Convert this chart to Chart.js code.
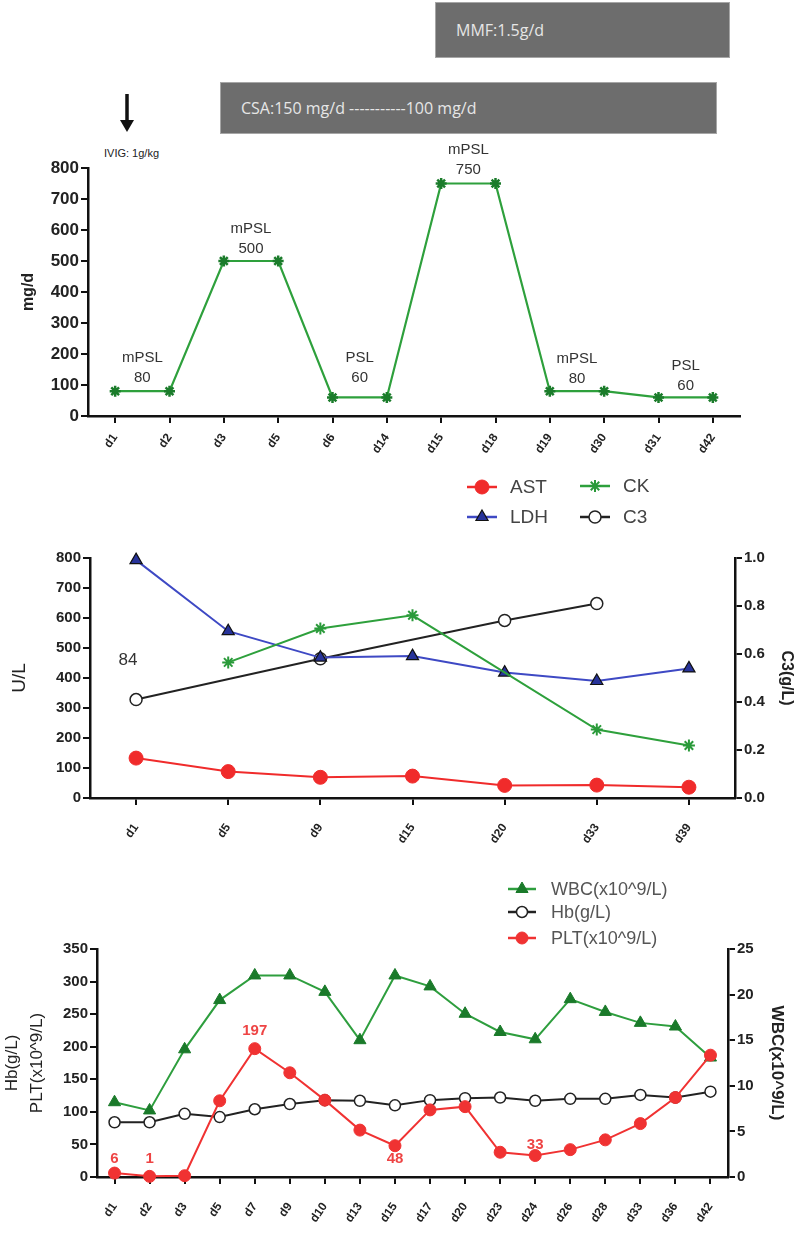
<!DOCTYPE html>
<html>
<head>
<meta charset="utf-8">
<script src="https://cdn.jsdelivr.net/npm/chart.js@4.4.1/dist/chart.umd.min.js"></script>
<style>
  body { margin: 0; background: #fff; font-family: "Liberation Sans", Arial, sans-serif; }
  #page { position: relative; width: 800px; height: 1238px; overflow: hidden; }
  canvas { position: absolute; left: 0; }
  .bar {
    position: absolute; box-sizing: border-box; background: #6d6d6d; border: 1px solid #a6a6a6;
    color: #e6e6e6; font-family: "Open Sans", sans-serif; font-size: 16px;
    display: flex; align-items: center; padding-left: 20px; white-space: pre;
  }
  .ivig { position: absolute; left: 104px; top: 147px; font-size: 11px; color: #222; }
</style>
</head>
<body>
<div id="page">
  <div class="bar" style="left:435px;top:2px;width:295px;height:56px">MMF:1.5g/d</div>
  <div class="bar" style="left:220px;top:82px;width:497px;height:52px">CSA:150 mg/d -----------100 mg/d</div>
  <svg style="position:absolute;left:118px;top:94px" width="18" height="40">
    <line x1="9" y1="0" x2="9" y2="28" stroke="#111" stroke-width="3.5"/>
    <polygon points="2,26 16,26 9,38" fill="#111"/>
  </svg>
  <div class="ivig">IVIG: 1g/kg</div>
  <canvas id="dose" width="800" height="330" style="top:140px"></canvas>
  <canvas id="enzyme" width="800" height="400" style="top:470px"></canvas>
  <canvas id="blood" width="800" height="368" style="top:870px"></canvas>
</div>
<script>
// ---- steroid dose panel ----
const doseDays = ['d1', 'd2', 'd3', 'd5', 'd6', 'd14', 'd15', 'd18', 'd19', 'd30', 'd31', 'd42'];
const doseMg = [80, 80, 500, 500, 60, 60, 750, 750, 80, 80, 60, 60];
const doseNotes = [['mPSL', '80'], ['mPSL', '500'], ['PSL', '60'], ['mPSL', '750'], ['mPSL', '80'], ['PSL', '60']];
const doseNoteAt = [0.5, 2.5, 4.5, 6.5, 8.5, 10.5];

// ---- enzyme panel ----
const labDays = ['d1', 'd5', 'd9', 'd15', 'd20', 'd33', 'd39'];
const ast = [133, 88, 69, 73, 42, 43, 36];
const ck = [null, 452, 565, 609, null, 228, 175];
const ldh = [793, 556, 468, 473, 418, 390, 432];
const c3 = [0.41, null, 0.58, null, 0.74, 0.81, null];

// ---- blood count panel ----
const cbcDays = ['d1', 'd2', 'd3', 'd5', 'd7', 'd9', 'd10', 'd13', 'd15', 'd17', 'd20', 'd23', 'd24', 'd26', 'd28', 'd33', 'd36', 'd42'];
const wbc = [8.2, 7.3, 14.0, 19.4, 22.1, 22.1, 20.3, 15.0, 22.1, 20.9, 17.9, 15.9, 15.1, 19.5, 18.1, 16.9, 16.5, 13.1];
const hb = [84, 84, 97, 92, 104, 112, 118, 117, 110, 118, 121, 122, 117, 120, 120, 126, 122, 131];
const plt = [6, 1, 2, 117, 197, 160, 118, 72, 48, 103, 108, 38, 33, 42, 57, 82, 122, 187];
const pltNoteAt = [0, 1, 4, 8, 12];

const FONT = '"Liberation Sans", Arial, sans-serif';

// text labels pinned to a category (may be fractional) and a value
const notesPlugin = {
  id: 'notes',
  afterDatasetsDraw(chart, args, opts) {
    const ctx = chart.ctx;
    const xs = chart.scales.x;
    (opts.items || []).forEach(n => {
      const ys = chart.scales[n.axis || 'y'];
      const i0 = Math.floor(n.at), i1 = Math.ceil(n.at);
      const p0 = xs.getPixelForValue(i0), p1 = xs.getPixelForValue(i1);
      const x = p0 + (p1 - p0) * (n.at - i0) + (n.dx || 0);
      const y = ys.getPixelForValue(n.value) + (n.dy || 0);
      const lines = Array.isArray(n.text) ? n.text : [n.text];
      ctx.save();
      ctx.font = opts.font;
      ctx.fillStyle = opts.color;
      ctx.textAlign = 'center';
      ctx.textBaseline = 'middle';
      lines.forEach((s, k) => {
        ctx.fillText(s, x, y - (lines.length - 1 - k) * opts.lineHeight);
      });
      ctx.restore();
    });
  }
};

// hand-placed legend, drawn with the datasets' own styles
const keyPlugin = {
  id: 'keyBox',
  afterDraw(chart, args, opts) {
    if (!opts.items) return;
    const ctx = chart.ctx;
    opts.items.forEach(it => {
      const ds = chart.data.datasets[it.ds];
      ctx.save();
      ctx.strokeStyle = ds.borderColor;
      ctx.lineWidth = 2.5;
      ctx.beginPath();
      ctx.moveTo(it.x, it.y);
      ctx.lineTo(it.x + opts.lineLen, it.y);
      ctx.stroke();
      ctx.fillStyle = ds.pointBackgroundColor;
      ctx.strokeStyle = ds.pointBorderColor;
      ctx.lineWidth = ds.pointBorderWidth;
      Chart.helpers.drawPoint(ctx, {
        pointStyle: ds.pointStyle, radius: ds.pointRadius, rotation: 0, borderWidth: ds.pointBorderWidth
      }, it.x + opts.lineLen / 2, it.y);
      ctx.font = opts.font;
      ctx.fillStyle = opts.color;
      ctx.textAlign = 'left';
      ctx.textBaseline = 'middle';
      ctx.fillText(ds.label, it.x + opts.lineLen + opts.gap, it.y + 1);
      ctx.restore();
    });
  }
};

function axisLook(size) {
  return {
    grid: { display: true, drawOnChartArea: false, drawTicks: true, tickLength: 7, color: '#111', lineWidth: 2 },
    border: { display: true, color: '#111', width: 2.5 },
    ticks: { color: '#222', padding: 2, font: { family: FONT, size: size, weight: 'bold' } }
  };
}

function xAxis(labels, height, pad) {
  const a = axisLook(12);
  return Object.assign(a, {
    type: 'category', labels: labels, offset: true,
    afterFit: s => { s.height = height; },
    ticks: Object.assign(a.ticks, { minRotation: 55, maxRotation: 55, autoSkip: false, padding: pad })
  });
}

function yAxis(pos, min, max, step, width, size, title, titlePad, decimals) {
  const a = axisLook(size);
  return Object.assign(a, {
    position: pos, min: min, max: max,
    afterFit: s => { s.width = width; },
    ticks: Object.assign(a.ticks, {
      stepSize: step,
      callback: v => decimals ? Number(v).toFixed(decimals) : v
    }),
    title: Object.assign({ display: true, color: '#222', padding: { top: titlePad, bottom: 0 } }, title)
  });
}

Chart.defaults.animation = false;
Chart.defaults.plugins.legend.display = false;
Chart.defaults.plugins.tooltip.enabled = false;
Chart.defaults.datasets.line.clip = false;

// ---------- panel 1 ----------
new Chart(document.getElementById('dose'), {
  type: 'line',
  data: {
    labels: doseDays,
    datasets: [{
      label: 'dose', data: doseMg, borderColor: '#2ea03c', borderWidth: 2.2, tension: 0,
      pointStyle: 'star', pointRadius: 5.5, pointBorderColor: '#1b7c2b', pointBackgroundColor: '#1b7c2b', pointBorderWidth: 2.5
    }]
  },
  options: {
    responsive: false,
    layout: { padding: { top: 28, right: 60, left: 0, bottom: 0 } },
    scales: {
      x: xAxis(doseDays, 54, 8),
      y: yAxis('left', 0, 800, 100, 88, 17, { text: 'mg/d', font: { family: FONT, size: 16, weight: 'bold' } }, 19)
    },
    plugins: {
      notes: {
        font: '15px ' + FONT, color: '#333', lineHeight: 20,
        items: doseNotes.map((t, k) => ({
          text: t, at: doseNoteAt[k], value: doseMg[Math.floor(doseNoteAt[k])],
          dy: [-13, -12, -20, -14, -12, -12][k]
        }))
      }
    }
  },
  plugins: [notesPlugin]
});

// ---------- panel 2 ----------
new Chart(document.getElementById('enzyme'), {
  type: 'line',
  data: {
    labels: labDays,
    datasets: [{
      label: 'AST', data: ast, borderColor: '#f02b2b', borderWidth: 2, tension: 0,
      pointStyle: 'circle', pointRadius: 7, pointBackgroundColor: '#f02b2b', pointBorderColor: '#f02b2b', pointBorderWidth: 1
    }, {
      label: 'CK', data: ck, borderColor: '#2ea03c', borderWidth: 2, tension: 0, spanGaps: true,
      pointStyle: 'star', pointRadius: 6, pointBackgroundColor: '#2a9a3a', pointBorderColor: '#2a9a3a', pointBorderWidth: 2
    }, {
      label: 'LDH', data: ldh, borderColor: '#3e49c4', borderWidth: 2, tension: 0,
      pointStyle: 'triangle', pointRadius: 7, pointBackgroundColor: '#27339a', pointBorderColor: '#111', pointBorderWidth: 1.2
    }, {
      label: 'C3', data: c3, yAxisID: 'y1', borderColor: '#222', borderWidth: 2, tension: 0, spanGaps: true,
      pointStyle: 'circle', pointRadius: 6, pointBackgroundColor: '#fff', pointBorderColor: '#222', pointBorderWidth: 1.5
    }]
  },
  options: {
    responsive: false,
    layout: { padding: { top: 88, right: 0, left: 0, bottom: 0 } },
    scales: {
      x: xAxis(labDays, 72, 16),
      y: yAxis('left', 0, 800, 100, 90, 15, { text: 'U/L', font: { family: FONT, size: 19 } }, 8),
      y1: yAxis('right', 0, 1, 0.2, 65, 15, { text: 'C3(g/L)', font: { family: FONT, size: 16, weight: 'bold' } }, 4, 1)
    },
    plugins: {
      notes: {
        font: '17px ' + FONT, color: '#333', lineHeight: 20,
        items: [{ text: '84', at: 0, value: 460, dx: -8, dy: 0 }]
      },
      keyBox: {
        font: '19px ' + FONT, color: '#444', lineLen: 30, gap: 13,
        items: [
          { ds: 0, x: 467, y: 17 }, { ds: 1, x: 580, y: 16 },
          { ds: 2, x: 467, y: 47 }, { ds: 3, x: 580, y: 47 }
        ]
      }
    }
  },
  plugins: [notesPlugin, keyPlugin]
});

// ---------- panel 3 ----------
new Chart(document.getElementById('blood'), {
  type: 'line',
  data: {
    labels: cbcDays,
    datasets: [{
      label: 'PLT(x10^9/L)', data: plt, borderColor: '#f03232', borderWidth: 2, tension: 0,
      pointStyle: 'circle', pointRadius: 6, pointBackgroundColor: '#f03232', pointBorderColor: '#f03232', pointBorderWidth: 1
    }, {
      label: 'Hb(g/L)', data: hb, borderColor: '#222', borderWidth: 2, tension: 0,
      pointStyle: 'circle', pointRadius: 5.5, pointBackgroundColor: '#fff', pointBorderColor: '#222', pointBorderWidth: 1.5
    }, {
      label: 'WBC(x10^9/L)', data: wbc, yAxisID: 'y1', borderColor: '#2e9e3e', borderWidth: 2, tension: 0,
      pointStyle: 'triangle', pointRadius: 7, pointBackgroundColor: '#1a7a2a', pointBorderColor: '#1a7a2a', pointBorderWidth: 1
    }]
  },
  options: {
    responsive: false,
    layout: { padding: { top: 79, right: 0, left: 0, bottom: 0 } },
    scales: {
      x: xAxis(cbcDays, 61, 16),
      y: yAxis('left', 0, 350, 50, 97, 15,
        { text: ['Hb(g/L)', 'PLT(x10^9/L)'], font: { family: FONT, size: 17, lineHeight: 1.45 } }, 0),
      y1: yAxis('right', 0, 25, 5, 72, 15,
        { text: 'WBC(x10^9/L)', font: { family: FONT, size: 17, weight: 'bold' } }, 13)
    },
    plugins: {
      notes: {
        font: 'bold 15px ' + FONT, color: '#ee4444', lineHeight: 18,
        items: pltNoteAt.map((i, k) => ({
          text: String(plt[i]), at: i, value: plt[i], dy: [-14, -17, -18, 13, -11][k]
        }))
      },
      keyBox: {
        font: '18px ' + FONT, color: '#555', lineLen: 28, gap: 15,
        items: [{ ds: 2, x: 508, y: 19 }, { ds: 1, x: 508, y: 42 }, { ds: 0, x: 508, y: 68 }]
      }
    }
  },
  plugins: [notesPlugin, keyPlugin]
});
</script>
</body>
</html>
